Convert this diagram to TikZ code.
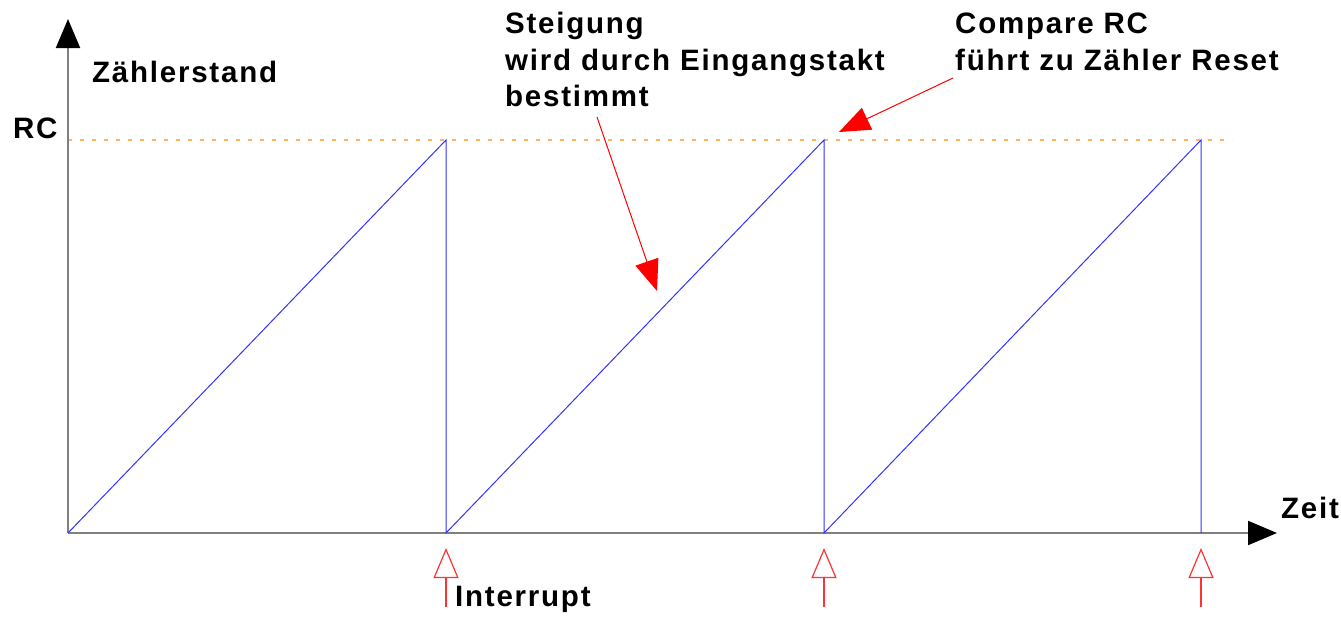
\documentclass[tikz,border=0pt]{standalone}
\usepackage{fontspec}
\setmainfont{Liberation Sans}
\newfontfamily\lblfont[LetterSpace=6]{Liberation Sans Bold}
\usetikzlibrary{arrows.meta}
\definecolor{axisgray}{HTML}{808080}
\definecolor{sawblue}{HTML}{3333FF}
\definecolor{rcorange}{HTML}{FFB366}
\definecolor{intred}{HTML}{FF3333}
\begin{document}
\begin{tikzpicture}[x=1pt,y=-1pt,
  lbl/.style={font=\fontsize{29.5}{36.7}\selectfont\lblfont, inner sep=0pt, anchor=base west, align=left},
  axis/.style={draw=axisgray, line width=2pt, -{Triangle[length=29pt,width=24pt,color=black]}},
  saw/.style={draw=sawblue, line width=1pt},
  rcline/.style={draw=rcorange, line width=1.5pt, dash pattern=on 4pt off 8pt},
  note/.style={draw=red, line width=1pt, -{Triangle[length=31pt,width=24pt]}},
  intarrow/.style={draw=intred, line width=1.2pt, -{Triangle[open,length=30pt,width=25pt]}}
]
\useasboundingbox (0,0) rectangle (1341,616);
% coordinates
\coordinate (O) at (68,533);
\coordinate (ytop) at (68,19);
\coordinate (xend) at (1277,533);
\coordinate (p1) at (446,140);
\coordinate (b1) at (446,533);
\coordinate (p2) at (824,140);
\coordinate (b2) at (824,533);
\coordinate (p3) at (1201,140);
\coordinate (b3) at (1201,533);
\coordinate (rcs) at (68,140);
\coordinate (rce) at (1232,140);
% RC level
\draw[rcline] (rcs) -- (rce);
% axes
\draw[axis] (O) -- (ytop);
\draw[axis] (O) -- (xend);
% sawtooth
\draw[saw] (O) -- (p1) -- (b1) -- (p2) -- (b2) -- (p3) -- (b3);
% labels
\node[lbl] (zs) at (92,82) {Zählerstand};
\node[lbl] (rc) at (13,138) {RC};
\node[lbl] (zeit) at (1281,518) {Zeit};
\node[lbl] (intr) at (455,606) {Interrupt};
\node[lbl] (steig) at (505,106.7) {Steigung\\wird durch Eingangstakt\\bestimmt};
\node[lbl] (comp) at (955,70) {Compare RC\\führt zu Zähler Reset};
% annotation arrows
\coordinate (s1) at (597,117);
\coordinate (t1) at (657,291);
\coordinate (s2) at (953,78);
\coordinate (t2) at (839,132);
\draw[note] (s1) -- (t1);
\draw[note] (s2) -- (t2);
% interrupt arrows
\coordinate (i1s) at (446,607);
\coordinate (i1t) at (446,548);
\coordinate (i2s) at (824,607);
\coordinate (i2t) at (824,548);
\coordinate (i3s) at (1201,607);
\coordinate (i3t) at (1201,548);
\draw[intarrow] (i1s) -- (i1t);
\draw[intarrow] (i2s) -- (i2t);
\draw[intarrow] (i3s) -- (i3t);
\end{tikzpicture}
\end{document}
